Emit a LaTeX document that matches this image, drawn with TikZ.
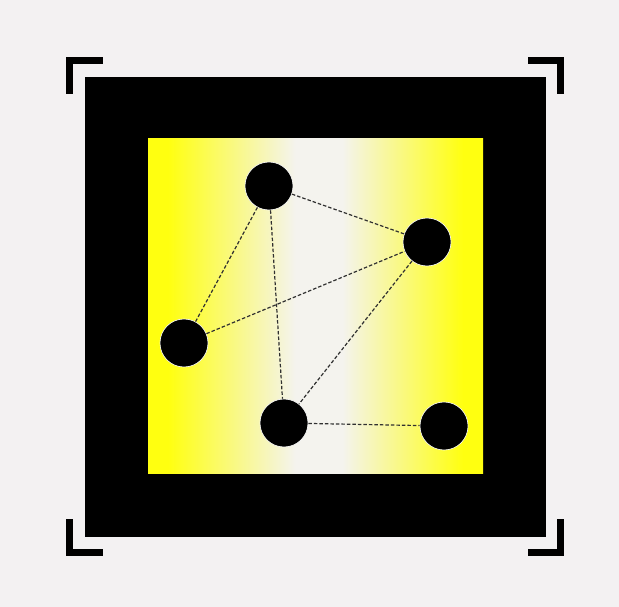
\documentclass[tikz,border=0pt]{standalone}
\definecolor{bggray}{HTML}{F3F1F2}
\definecolor{midpale}{HTML}{F4F3EE}
\definecolor{yel}{HTML}{FFFF10}
\definecolor{dashgray}{HTML}{303030}
\pgfdeclarehorizontalshading{yshade}{100bp}{color(0bp)=(yel); color(28bp)=(yel); color(47bp)=(midpale); color(54bp)=(midpale); color(72bp)=(yel); color(100bp)=(yel)}
\tikzset{
  dot/.style={circle, fill=black, draw=white, line width=0.6pt, minimum size=48pt, inner sep=0pt},
  link/.style={draw=dashgray, line width=1.2pt, dash pattern=on 3.5pt off 2pt},
  bracket/.style={line width=7pt, line join=miter, line cap=butt, draw=black}
}
\begin{document}
\begin{tikzpicture}[x=1pt,y=-1pt]
\useasboundingbox (0,0) rectangle (619,607);
\fill[bggray] (0,0) rectangle (619,607);
\fill[black] (85,77) rectangle (546,537);
\shade[shading=yshade] (148,139) rectangle (483,473);
% brackets
\draw[bracket] (69.5,94) -- (69.5,60.5) -- (103,60.5);
\draw[bracket] (528,60.5) -- (560.5,60.5) -- (560.5,94);
\draw[bracket] (69.5,519) -- (69.5,552.5) -- (103,552.5);
\draw[bracket] (528,552.5) -- (560.5,552.5) -- (560.5,519);
% nodes
\node[dot] (a) at (269,186) {};
\node[dot] (b) at (427,242) {};
\node[dot] (c) at (184,343) {};
\node[dot] (d) at (284,423) {};
\node[dot] (e) at (444,426) {};
% links
\draw[link] (a) -- (b);
\draw[link] (a) -- (c);
\draw[link] (a) -- (d);
\draw[link] (c) -- (b);
\draw[link] (b) -- (d);
\draw[link] (d) -- (e);
\end{tikzpicture}
\end{document}
